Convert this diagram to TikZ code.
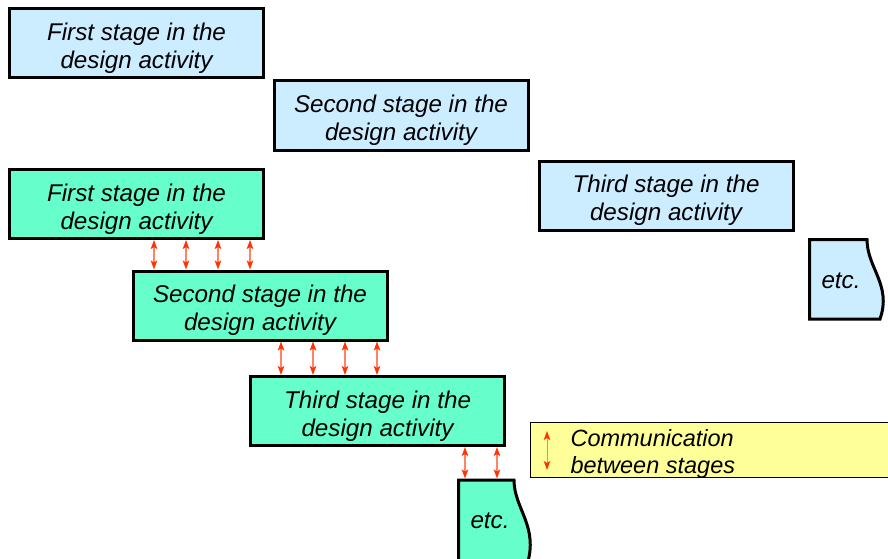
\documentclass[tikz,border=0pt]{standalone}
\usepackage{fontspec}
\setmainfont{Liberation Sans}
\usetikzlibrary{arrows.meta}
\definecolor{stageblue}{RGB}{204,236,255}
\definecolor{stagegreen}{RGB}{102,255,204}
\definecolor{notebg}{RGB}{255,255,153}
\definecolor{headred}{RGB}{255,51,0}
\definecolor{shaftred}{RGB}{255,130,100}
\tikzset{
  lbl/.style={font=\fontsize{24.2}{28}\selectfont\itshape},
  stagebox/.style={draw=black, line width=3pt,
    minimum width=254pt, minimum height=69pt, inner sep=0pt},
  seqbox/.style={stagebox, fill=stageblue},
  conbox/.style={stagebox, fill=stagegreen},
  boxtext/.style={label={[lbl, align=center, yshift=-5pt]center:#1}},
  etcshape/.style={draw=black, line width=3pt},
  comm/.style={draw=shaftred, line width=1.5pt,
    {Stealth[length=9pt,width=6.5pt,inset=2pt,color=headred]}-{Stealth[length=9pt,width=6.5pt,inset=2pt,color=headred]}}
}
\begin{document}
\begin{tikzpicture}[x=1pt,y=-1pt]
\useasboundingbox (0,0) rectangle (888,559);

% sequential design stages
\node[seqbox, boxtext={First stage in the\\design activity}] (B1) at (136.5,43.5) {};
\node[seqbox, boxtext={Second stage in the\\design activity}] (B2) at (401,115.5) {};
\node[seqbox, boxtext={Third stage in the\\design activity}] (B3) at (666,195.5) {};
\draw[etcshape, fill=stageblue] (809.5,239.5) -- (867,239.5)
  .. controls (867,268) and (892,285) .. (880,319) -- (809.5,319) -- cycle;
\node[lbl] (E1) at (841,281) {etc.};

% overlapping design stages
\node[conbox, boxtext={First stage in the\\design activity}] (G1) at (136.5,204) {};
\node[conbox, boxtext={Second stage in the\\design activity}] (G2) at (260,305.5) {};
\node[conbox, boxtext={Third stage in the\\design activity}] (G3) at (377.5,411) {};
\draw[etcshape, fill=stagegreen] (458.5,480) -- (514,480)
  .. controls (514,509) and (539,526) .. (527,565) -- (458.5,565) -- cycle;
\node[lbl] (E2) at (490,521) {etc.};
\coordinate (E2top) at (458.5,478.5);

% communication between stages
\foreach \x in {154,186,218,250}
  \draw[comm] (\x,0 |- G1.south) -- (\x,0 |- G2.north);
\foreach \x in {281,313,345,377}
  \draw[comm] (\x,0 |- G2.south) -- (\x,0 |- G3.north);
\foreach \x in {465,497}
  \draw[comm] (\x,0 |- G3.south) -- (\x,0 |- E2top);

% key
\draw[fill=notebg, line width=1.5pt] (530.5,422.5) rectangle (900,477.5);
\coordinate (K1) at (547,431);
\coordinate (K2) at (547,470);
\draw[comm, line width=1pt] (K1) -- (K2);
\node[lbl, anchor=west, align=left, font=\fontsize{23.5}{27}\selectfont\itshape] (KT) at (567,453.5)
  {Communication\\between stages};
\end{tikzpicture}
\end{document}
